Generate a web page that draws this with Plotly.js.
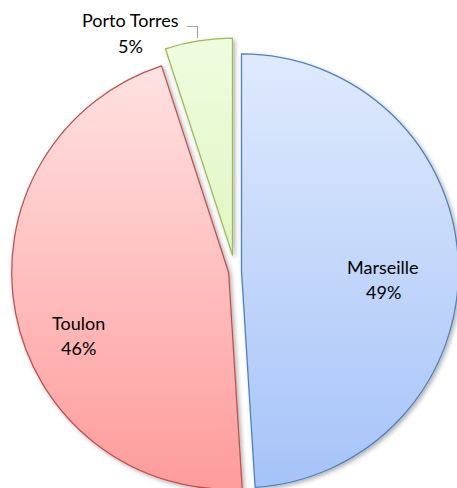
<!DOCTYPE html>
<html>
<head>
<meta charset="utf-8">
<script src="https://cdn.plot.ly/plotly-3.0.1.min.js"></script>
<style>
  html, body { margin: 0; padding: 0; overflow: hidden; background: #ffffff; }
  #chart { width: 468px; height: 504px; }
</style>
</head>
<body>
<div id="chart"></div>
<script>
// ---- data ----
var labels = ["Marseille", "Toulon", "Porto Torres"];
var values = [49, 46, 5];

// ---- styles ----
var pulls = [0.03, 0.03, 0.074];
var lineColors = ["#4f81bd", "#c0504d", "#9bbb59"];
var baseColors = ["#c4d7fb", "#ffbdbd", "#e8f9d0"];
var gradTop = ["#dfeafd", "#ffe2e2", "#effcdf"];
var gradBot = ["#a6c3f8", "#ff9b9b", "#e1f6c2"];

// layout geometry (pixels)
var W = 468, H = 504, ML = 2, MT = 38;
var PW = W - ML, PH = H - MT;
function px(x) { return (x - ML) / PW; }
function py(y) { return 1 - (y - MT) / PH; }

// label placement (pixel centres of the two text lines)
var labelPos = [
  {x: 383, y1: 267, y2: 292},
  {x: 78,  y1: 323, y2: 348},
  {x: 130, y1: 20,  y2: 46}
];

var total = values.reduce(function(a, b) { return a + b; }, 0);
var annotations = [];
labels.forEach(function(lab, i) {
  var pct = Math.round(values[i] / total * 100) + "%";
  var p = labelPos[i];
  [[lab, p.y1], [pct, p.y2]].forEach(function(t) {
    annotations.push({
      text: t[0], x: px(p.x), y: py(t[1]), xref: "paper", yref: "paper",
      xanchor: "center", yanchor: "middle", showarrow: false,
      font: {family: "Lato, 'Open Sans', sans-serif", size: 18, color: "#000000"}
    });
  });
});

var trace = {
  type: "pie",
  labels: labels,
  values: values,
  sort: false,
  direction: "clockwise",
  rotation: 0,
  pull: pulls,
  textinfo: "none",
  hoverinfo: "skip",
  marker: {colors: baseColors, line: {color: lineColors, width: 1.3}},
  domain: {x: [0, 1], y: [0, 1]}
};

var layout = {
  width: W, height: H,
  margin: {l: ML, r: 0, t: MT, b: 0},
  showlegend: false,
  paper_bgcolor: "#ffffff",
  plot_bgcolor: "#ffffff",
  annotations: annotations,
  shapes: [{
    type: "path", xref: "paper", yref: "paper",
    path: "M " + px(187) + "," + py(26.5) + " L " + px(197.5) + "," + py(26.5) + " L " + px(197.5) + "," + py(38),
    line: {color: "#a6a6a6", width: 1.2}
  }]
};

Plotly.newPlot("chart", [trace], layout, {displayModeBar: false, staticPlot: true}).then(function() {
  var svg = document.querySelector("#chart svg.main-svg");
  var ns = "http://www.w3.org/2000/svg";
  var defs = svg.querySelector("defs") || svg.insertBefore(document.createElementNS(ns, "defs"), svg.firstChild);
  labels.forEach(function(lab, i) {
    var g = document.createElementNS(ns, "linearGradient");
    g.setAttribute("id", "sliceGrad" + i);
    g.setAttribute("x1", "0"); g.setAttribute("y1", "0");
    g.setAttribute("x2", "0"); g.setAttribute("y2", "1");
    [[0, gradTop[i]], [1, gradBot[i]]].forEach(function(s) {
      var st = document.createElementNS(ns, "stop");
      st.setAttribute("offset", s[0]);
      st.setAttribute("stop-color", s[1]);
      g.appendChild(st);
    });
    defs.appendChild(g);
  });
  var f = document.createElementNS(ns, "filter");
  f.setAttribute("id", "sliceShadow");
  f.setAttribute("x", "-10%"); f.setAttribute("y", "-10%");
  f.setAttribute("width", "130%"); f.setAttribute("height", "130%");
  var ds = document.createElementNS(ns, "feDropShadow");
  ds.setAttribute("dx", "2"); ds.setAttribute("dy", "2");
  ds.setAttribute("stdDeviation", "2");
  ds.setAttribute("flood-color", "#000000");
  ds.setAttribute("flood-opacity", "0.3");
  f.appendChild(ds);
  defs.appendChild(f);
  var paths = document.querySelectorAll("#chart g.slice path.surface");
  paths.forEach(function(p, i) {
    p.style.fill = "url(#sliceGrad" + i + ")";
    p.setAttribute("filter", "url(#sliceShadow)");
  });
});
</script>
</body>
</html>
